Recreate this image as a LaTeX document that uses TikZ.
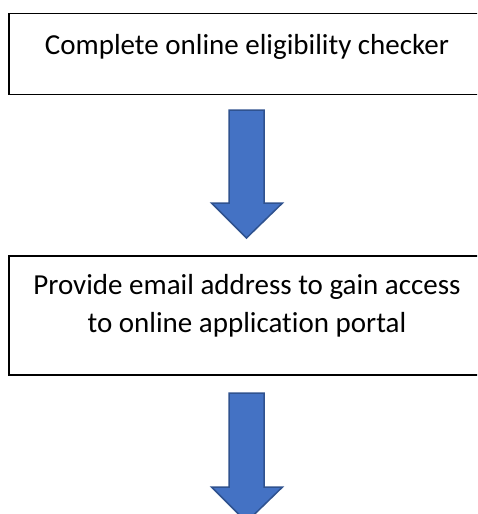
\documentclass[tikz,border=0pt]{standalone}
\usepackage{fontspec}
\setmainfont[Ligatures={NoCommon,NoContextual}]{Carlito}
\usetikzlibrary{calc}
\definecolor{arrowfill}{HTML}{4472C4}
\definecolor{arrowline}{HTML}{2F528F}
\begin{document}
\begin{tikzpicture}[x=1pt,y=1pt,
  stepbox/.style={draw=black,line width=1.6pt,fill=white,rectangle,inner sep=0pt},
  steptext/.style={font=\fontsize{29}{38.5}\selectfont,align=center,inner sep=0pt},
  blockarrow/.style={fill=arrowfill,draw=arrowline,line width=1.5pt,line join=miter}]
\useasboundingbox (0,0) rectangle (477,-514);
\clip (0,0) rectangle (477,-514);
% boxes
\node[stepbox,minimum width=476pt,minimum height=81pt,anchor=north west] (b1) at (8,-12.5) {};
\node[stepbox,minimum width=476pt,minimum height=119pt,anchor=north west] (b2) at (8,-255) {};
% texts
\node[steptext,anchor=base] (t1) at (247,-54) {Complete online eligibility checker};
\node[steptext,anchor=base] (t2) at (247,-294) {Provide email address to gain access};
\node[steptext,anchor=base] (t3) at (247,-332.5) {to online application portal};
% arrows
\coordinate (a1) at (246.5,-110);
\coordinate (a2) at (246.5,-393);
\draw[blockarrow] ($(a1)+(-17.5,0)$) -- ($(a1)+(17.5,0)$) -- ($(a1)+(17.5,-93)$) -- ($(a1)+(36,-93)$) -- ($(a1)+(0,-128)$) -- ($(a1)+(-35,-93)$) -- ($(a1)+(-17.5,-93)$) -- cycle;
\draw[blockarrow] ($(a2)+(-17.5,0)$) -- ($(a2)+(17.5,0)$) -- ($(a2)+(17.5,-94)$) -- ($(a2)+(36,-94)$) -- ($(a2)+(0,-129)$) -- ($(a2)+(-35,-94)$) -- ($(a2)+(-17.5,-94)$) -- cycle;
\end{tikzpicture}
\end{document}
